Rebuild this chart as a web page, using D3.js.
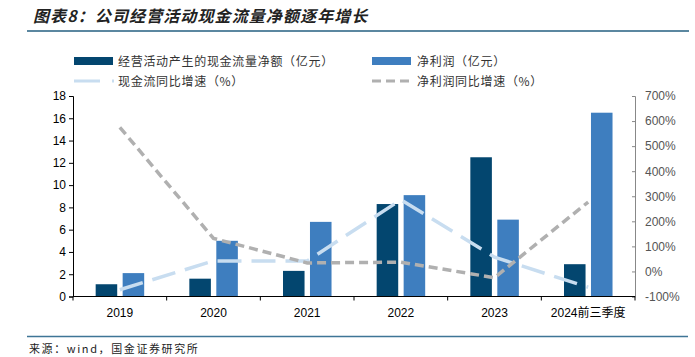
<!DOCTYPE html>
<html><head><meta charset="utf-8">
<script src="https://cdn.jsdelivr.net/npm/d3@7"></script>
<style>body{margin:0;background:#fff}svg{display:block}</style>
</head><body>
<script>
const categories = ["2019","2020","2021","2022","2023","2024前三季度"];
const cashFlow = [1.1, 1.6, 2.3, 8.3, 12.5, 2.9];
const netProfit = [2.1, 5.0, 6.7, 9.1, 6.9, 16.5];
const cashFlowGrowth = [-73, 42, 42, 286, 57, -63];
const netProfitGrowth = [575, 132, 34, 37, -25, 277];
const leftTicks = [0,2,4,6,8,10,12,14,16,18];
const rightTicks = [-100,0,100,200,300,400,500,600,700];
const seriesNames = ["经营活动产生的现金流量净额（亿元）","净利润（亿元）","现金流同比增速（%）","净利润同比增速（%）"];
const titleText = "图表8：公司经营活动现金流量净额逐年增长";
const sourceText = "来源：wind，国金证券研究所";

const W=695,H=357;
const svg=d3.select("body").append("svg").attr("width",W).attr("height",H);
const cn="'Noto Sans CJK SC','Noto Sans',sans-serif";
const lat="'Liberation Sans',Arial,sans-serif";
const C={dark:"#03466f",light:"#3e7ebf",grey:"#b0b0b0",pale:"#c8ddf0"};

// title
svg.append("text").attr("x",33).attr("y",22).attr("font-family",cn).attr("font-size",16)
  .attr("font-weight","bold").attr("font-style","italic").attr("fill","#222").attr("letter-spacing",1.1).text(titleText);
svg.append("line").attr("x1",27).attr("x2",689).attr("y1",31).attr("y2",31).attr("stroke","#5b87a0").attr("stroke-width",2.2);

const x=d3.scaleBand().domain(categories).range([73,635]).padding(0);
const yL=d3.scaleLinear().domain([0,18]).range([296.5,96]);
const yR=d3.scaleLinear().domain([-100,700]).range([296.5,96]);
const bw=x.bandwidth();
const barW=bw*0.23;

// bars
svg.append("g").selectAll("rect").data(categories).join("rect")
  .attr("x",d=>x(d)+bw/2-bw*0.258).attr("width",barW)
  .attr("y",(d,i)=>yL(cashFlow[i])).attr("height",(d,i)=>yL(0)-yL(cashFlow[i])).attr("fill",C.dark);
svg.append("g").selectAll("rect").data(categories).join("rect")
  .attr("x",d=>x(d)+bw/2+bw*0.03).attr("width",barW)
  .attr("y",(d,i)=>yL(netProfit[i])).attr("height",(d,i)=>yL(0)-yL(netProfit[i])).attr("fill",C.light);

// lines
const cx=d=>x(d)+bw/2;
const lineL=d3.line().x((v,i)=>cx(categories[i])).y(v=>yR(v));
svg.append("path").datum(cashFlowGrowth).attr("d",lineL).attr("fill","none").attr("stroke",C.pale)
  .attr("stroke-width",3.5).attr("stroke-dasharray","24 10");
svg.append("path").datum(netProfitGrowth).attr("d",lineL).attr("fill","none").attr("stroke",C.grey)
  .attr("stroke-width",3.5).attr("stroke-dasharray","9 5");

// axes
const gL=svg.append("g").attr("transform","translate(73,0)").call(d3.axisLeft(yL).tickValues(leftTicks).tickSize(4).tickPadding(3));
gL.select(".domain").attr("stroke","#000");
gL.selectAll("line").attr("stroke","#000");
gL.selectAll("text").attr("font-family",lat).attr("font-size",12).attr("fill","#000");

const gR=svg.append("g").attr("transform","translate(635,0)").call(d3.axisRight(yR).tickValues(rightTicks).tickSize(-3).tickPadding(10).tickFormat(d=>d+"%"));
gR.select(".domain").attr("stroke","#888");
gR.selectAll("line").attr("stroke","#888");
gR.selectAll("text").attr("font-family",lat).attr("font-size",12).attr("fill","#555");

const gX=svg.append("g").attr("transform","translate(0,296.5)");
gX.append("line").attr("x1",73).attr("x2",635).attr("stroke","#000");
gX.selectAll("line.t").data(d3.range(categories.length+1)).join("line").attr("class","t")
  .attr("x1",i=>73+i*bw).attr("x2",i=>73+i*bw).attr("y1",0).attr("y2",4).attr("stroke","#000");
gX.selectAll("text").data(categories).join("text").attr("x",d=>cx(d)).attr("y",20)
  .attr("text-anchor","middle").attr("font-family",lat+","+cn).attr("font-size",12).attr("fill","#000").text(d=>d);

// legend
const lg=svg.append("g").attr("font-family",cn).attr("font-size",12).attr("fill","#333").attr("letter-spacing",0.7);
lg.append("rect").attr("x",74).attr("y",57).attr("width",39).attr("height",8).attr("fill",C.dark);
lg.append("text").attr("x",118).attr("y",65.5).text(seriesNames[0]);
lg.append("rect").attr("x",372).attr("y",57).attr("width",39).attr("height",8).attr("fill",C.light);
lg.append("text").attr("x",417).attr("y",65.5).text(seriesNames[1]);
lg.append("line").attr("x1",74).attr("x2",114).attr("y1",81).attr("y2",81).attr("stroke",C.pale).attr("stroke-width",3).attr("stroke-dasharray","26 12");
lg.append("text").attr("x",118).attr("y",85.5).text(seriesNames[2]);
lg.append("line").attr("x1",372).attr("x2",410).attr("y1",81).attr("y2",81).attr("stroke",C.grey).attr("stroke-width",3).attr("stroke-dasharray","9 5");
lg.append("text").attr("x",417).attr("y",85.5).text(seriesNames[3]);

// footer
svg.append("line").attr("x1",27).attr("x2",688).attr("y1",336.5).attr("y2",336.5).attr("stroke","#3f7596").attr("stroke-width",1.6);
svg.append("text").attr("x",29).attr("y",353).attr("font-family",cn).attr("font-size",11).attr("fill","#222").attr("letter-spacing",1.6).text(sourceText);
</script>
</body></html>
